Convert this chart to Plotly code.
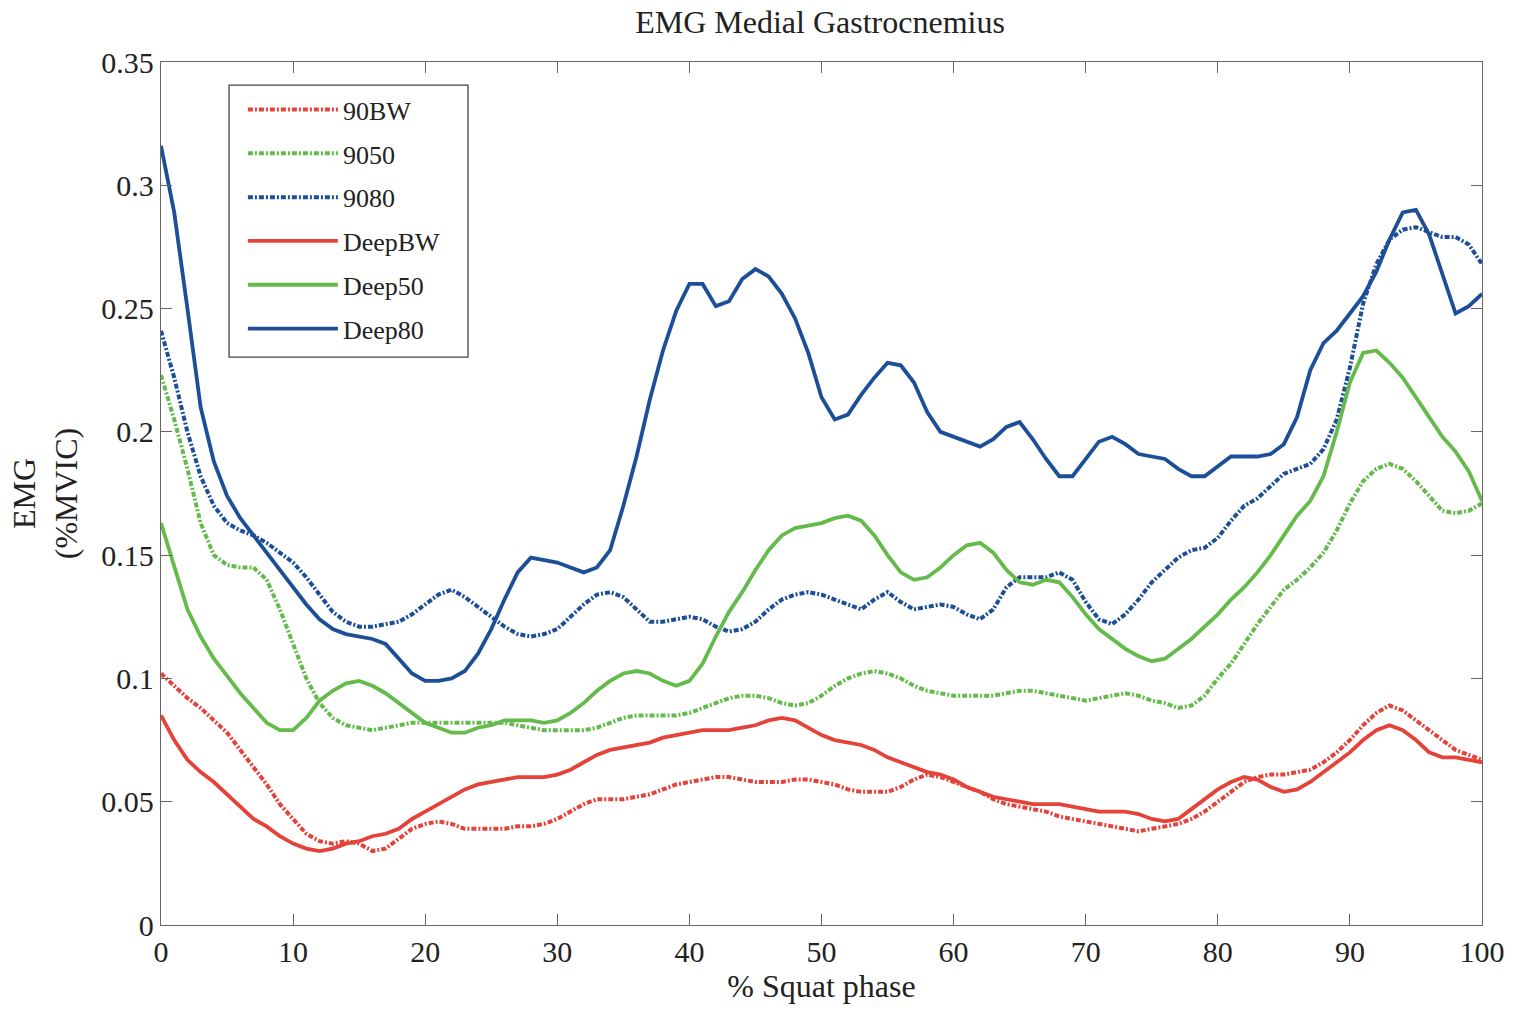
import plotly.graph_objects as go

# % squat phase, sampled every 1 %
phase = list(range(0, 101))

emg_90bw = [0.102, 0.097, 0.092, 0.088, 0.083, 0.078, 0.071, 0.064, 0.057, 0.049,
            0.043, 0.037, 0.034, 0.033, 0.034, 0.033, 0.030, 0.031, 0.035, 0.039,
            0.041, 0.042, 0.041, 0.039, 0.039, 0.039, 0.039, 0.040, 0.040, 0.041,
            0.043, 0.046, 0.049, 0.051, 0.051, 0.051, 0.052, 0.053, 0.055, 0.057,
            0.058, 0.059, 0.060, 0.060, 0.059, 0.058, 0.058, 0.058, 0.059, 0.059,
            0.058, 0.057, 0.055, 0.054, 0.054, 0.054, 0.056, 0.059, 0.061, 0.060,
            0.058, 0.056, 0.054, 0.051, 0.049, 0.048, 0.047, 0.046, 0.044, 0.043,
            0.042, 0.041, 0.040, 0.039, 0.038, 0.039, 0.040, 0.041, 0.043, 0.046,
            0.050, 0.054, 0.058, 0.060, 0.061, 0.061, 0.062, 0.063, 0.066, 0.070,
            0.075, 0.081, 0.086, 0.089, 0.087, 0.083, 0.079, 0.075, 0.071, 0.069,
            0.067]

emg_9050 = [0.223, 0.205, 0.185, 0.163, 0.150, 0.146, 0.145, 0.145, 0.140, 0.128,
            0.114, 0.100, 0.090, 0.084, 0.081, 0.080, 0.079, 0.080, 0.081, 0.082,
            0.082, 0.082, 0.082, 0.082, 0.082, 0.082, 0.082, 0.081, 0.080, 0.079,
            0.079, 0.079, 0.079, 0.080, 0.082, 0.084, 0.085, 0.085, 0.085, 0.085,
            0.086, 0.088, 0.090, 0.092, 0.093, 0.093, 0.092, 0.090, 0.089, 0.090,
            0.093, 0.097, 0.100, 0.102, 0.103, 0.102, 0.100, 0.097, 0.095, 0.094,
            0.093, 0.093, 0.093, 0.093, 0.094, 0.095, 0.095, 0.094, 0.093, 0.092,
            0.091, 0.092, 0.093, 0.094, 0.093, 0.091, 0.090, 0.088, 0.089, 0.093,
            0.100, 0.106, 0.114, 0.122, 0.129, 0.136, 0.140, 0.145, 0.151, 0.160,
            0.171, 0.180, 0.185, 0.187, 0.185, 0.180, 0.174, 0.168, 0.167, 0.168,
            0.171]

emg_9080 = [0.241, 0.222, 0.200, 0.182, 0.170, 0.163, 0.160, 0.158, 0.155, 0.151,
            0.147, 0.141, 0.134, 0.127, 0.123, 0.121, 0.121, 0.122, 0.123, 0.126,
            0.130, 0.134, 0.136, 0.133, 0.129, 0.125, 0.121, 0.118, 0.117, 0.118,
            0.120, 0.125, 0.130, 0.134, 0.135, 0.133, 0.128, 0.123, 0.123, 0.124,
            0.125, 0.124, 0.121, 0.119, 0.120, 0.123, 0.128, 0.132, 0.134, 0.135,
            0.134, 0.132, 0.130, 0.128, 0.132, 0.135, 0.131, 0.128, 0.129, 0.130,
            0.129, 0.126, 0.124, 0.128, 0.137, 0.141, 0.141, 0.141, 0.143, 0.140,
            0.131, 0.124, 0.122, 0.126, 0.132, 0.139, 0.144, 0.149, 0.152, 0.153,
            0.157, 0.164, 0.170, 0.173, 0.178, 0.183, 0.185, 0.187, 0.193, 0.205,
            0.226, 0.252, 0.268, 0.278, 0.282, 0.283, 0.281, 0.279, 0.279, 0.276,
            0.268]

emg_deepbw = [0.085, 0.075, 0.067, 0.062, 0.058, 0.053, 0.048, 0.043, 0.040, 0.036,
              0.033, 0.031, 0.030, 0.031, 0.033, 0.034, 0.036, 0.037, 0.039, 0.043,
              0.046, 0.049, 0.052, 0.055, 0.057, 0.058, 0.059, 0.060, 0.060, 0.060,
              0.061, 0.063, 0.066, 0.069, 0.071, 0.072, 0.073, 0.074, 0.076, 0.077,
              0.078, 0.079, 0.079, 0.079, 0.080, 0.081, 0.083, 0.084, 0.083, 0.080,
              0.077, 0.075, 0.074, 0.073, 0.071, 0.068, 0.066, 0.064, 0.062, 0.061,
              0.059, 0.056, 0.054, 0.052, 0.051, 0.050, 0.049, 0.049, 0.049, 0.048,
              0.047, 0.046, 0.046, 0.046, 0.045, 0.043, 0.042, 0.043, 0.047, 0.051,
              0.055, 0.058, 0.060, 0.059, 0.056, 0.054, 0.055, 0.058, 0.062, 0.066,
              0.070, 0.075, 0.079, 0.081, 0.079, 0.075, 0.070, 0.068, 0.068, 0.067,
              0.066]

emg_deep50 = [0.163, 0.145, 0.128, 0.117, 0.108, 0.101, 0.094, 0.088, 0.082, 0.079,
              0.079, 0.084, 0.091, 0.095, 0.098, 0.099, 0.097, 0.094, 0.090, 0.086,
              0.082, 0.080, 0.078, 0.078, 0.080, 0.081, 0.083, 0.083, 0.083, 0.082,
              0.083, 0.086, 0.090, 0.095, 0.099, 0.102, 0.103, 0.102, 0.099, 0.097,
              0.099, 0.106, 0.117, 0.127, 0.135, 0.144, 0.152, 0.158, 0.161, 0.162,
              0.163, 0.165, 0.166, 0.164, 0.158, 0.150, 0.143, 0.140, 0.141, 0.145,
              0.150, 0.154, 0.155, 0.151, 0.144, 0.139, 0.138, 0.140, 0.139, 0.133,
              0.126, 0.120, 0.116, 0.112, 0.109, 0.107, 0.108, 0.112, 0.116, 0.121,
              0.126, 0.132, 0.137, 0.143, 0.150, 0.158, 0.166, 0.172, 0.182, 0.200,
              0.220, 0.232, 0.233, 0.228, 0.222, 0.214, 0.206, 0.198, 0.192, 0.184,
              0.172]

emg_deep80 = [0.316, 0.289, 0.250, 0.210, 0.188, 0.174, 0.165, 0.158, 0.151, 0.144,
              0.137, 0.130, 0.124, 0.120, 0.118, 0.117, 0.116, 0.114, 0.108, 0.102,
              0.099, 0.099, 0.100, 0.103, 0.110, 0.120, 0.132, 0.143, 0.149, 0.148,
              0.147, 0.145, 0.143, 0.145, 0.152, 0.170, 0.190, 0.213, 0.233, 0.249,
              0.260, 0.260, 0.251, 0.253, 0.262, 0.266, 0.263, 0.256, 0.246, 0.232,
              0.214, 0.205, 0.207, 0.215, 0.222, 0.228, 0.227, 0.220, 0.208, 0.200,
              0.198, 0.196, 0.194, 0.197, 0.202, 0.204, 0.197, 0.189, 0.182, 0.182,
              0.189, 0.196, 0.198, 0.195, 0.191, 0.190, 0.189, 0.185, 0.182, 0.182,
              0.186, 0.190, 0.190, 0.190, 0.191, 0.195, 0.206, 0.225, 0.236, 0.241,
              0.248, 0.255, 0.265, 0.278, 0.289, 0.290, 0.280, 0.264, 0.248, 0.251,
              0.256]

series_names = ["90BW", "9050", "9080", "DeepBW", "Deep50", "Deep80"]
series_values = [emg_90bw, emg_9050, emg_9080, emg_deepbw, emg_deep50, emg_deep80]

x_ticks = [0, 10, 20, 30, 40, 50, 60, 70, 80, 90, 100]
y_ticks = [0, 0.05, 0.1, 0.15, 0.2, 0.25, 0.3, 0.35]
y_tick_labels = ["0", "0.05", "0.1", "0.15", "0.2", "0.25", "0.3", "0.35"]

RED = "#e5433a"
GREEN = "#64bb4c"
BLUE = "#1d4f99"
colors = [RED, GREEN, BLUE, RED, GREEN, BLUE]
dashes = ["5px,2px,2px,2px"] * 3 + ["solid"] * 3
widths = [4, 4, 4, 3.8, 3.8, 3.8]

SERIF = "Liberation Serif, Times New Roman, serif"
TEXT = "#222222"
AXIS = "#666666"

fig = go.Figure()
for name, vals, col, dash, w in zip(series_names, series_values, colors, dashes, widths):
    fig.add_trace(go.Scatter(
        x=phase, y=vals, name=name, mode="lines", legendgroup=name,
        line=dict(color=col, dash=dash, width=w),
    ))

axis_common = dict(
    showline=True, linecolor=AXIS, linewidth=1.3, mirror="ticks",
    ticks="inside", ticklen=11, tickcolor=AXIS, tickwidth=1.3,
    showgrid=False, zeroline=False, automargin=False,
    tickfont=dict(family=SERIF, size=30, color=TEXT),
)

# legend frame, drawn as a paper-space box behind the legend entries
fig.add_shape(type="rect", xref="paper", yref="paper",
              x0=0.0515, x1=0.2324, y0=0.658, y1=0.9733,
              line=dict(color="#444444", width=1.3), fillcolor="white",
              layer="above")

fig.update_layout(
    width=1513, height=1010,
    margin=dict(l=161, r=31, t=62, b=85),
    paper_bgcolor="white", plot_bgcolor="white",
    title=dict(text="EMG Medial Gastrocnemius", x=0.542, xanchor="center",
               y=0.978, yanchor="middle",
               font=dict(family=SERIF, size=32, color=TEXT)),
    xaxis=dict(range=[0, 100], tickvals=x_ticks,
               title=dict(text="% Squat phase", standoff=2,
                          font=dict(family=SERIF, size=32, color=TEXT)),
               **axis_common),
    yaxis=dict(range=[0, 0.35], tickvals=y_ticks, ticktext=y_tick_labels,
               title=dict(text="EMG<br>(%MVIC)", standoff=14,
                          font=dict(family=SERIF, size=32, color=TEXT)),
               **axis_common),
    legend=dict(x=0.062, y=0.972, xanchor="left", yanchor="top",
                bgcolor="rgba(0,0,0,0)", borderwidth=0,
                font=dict(family=SERIF, size=26, color=TEXT),
                itemwidth=90, traceorder="grouped", tracegroupgap=7),
    showlegend=True,
)

fig.write_html("out.html")
